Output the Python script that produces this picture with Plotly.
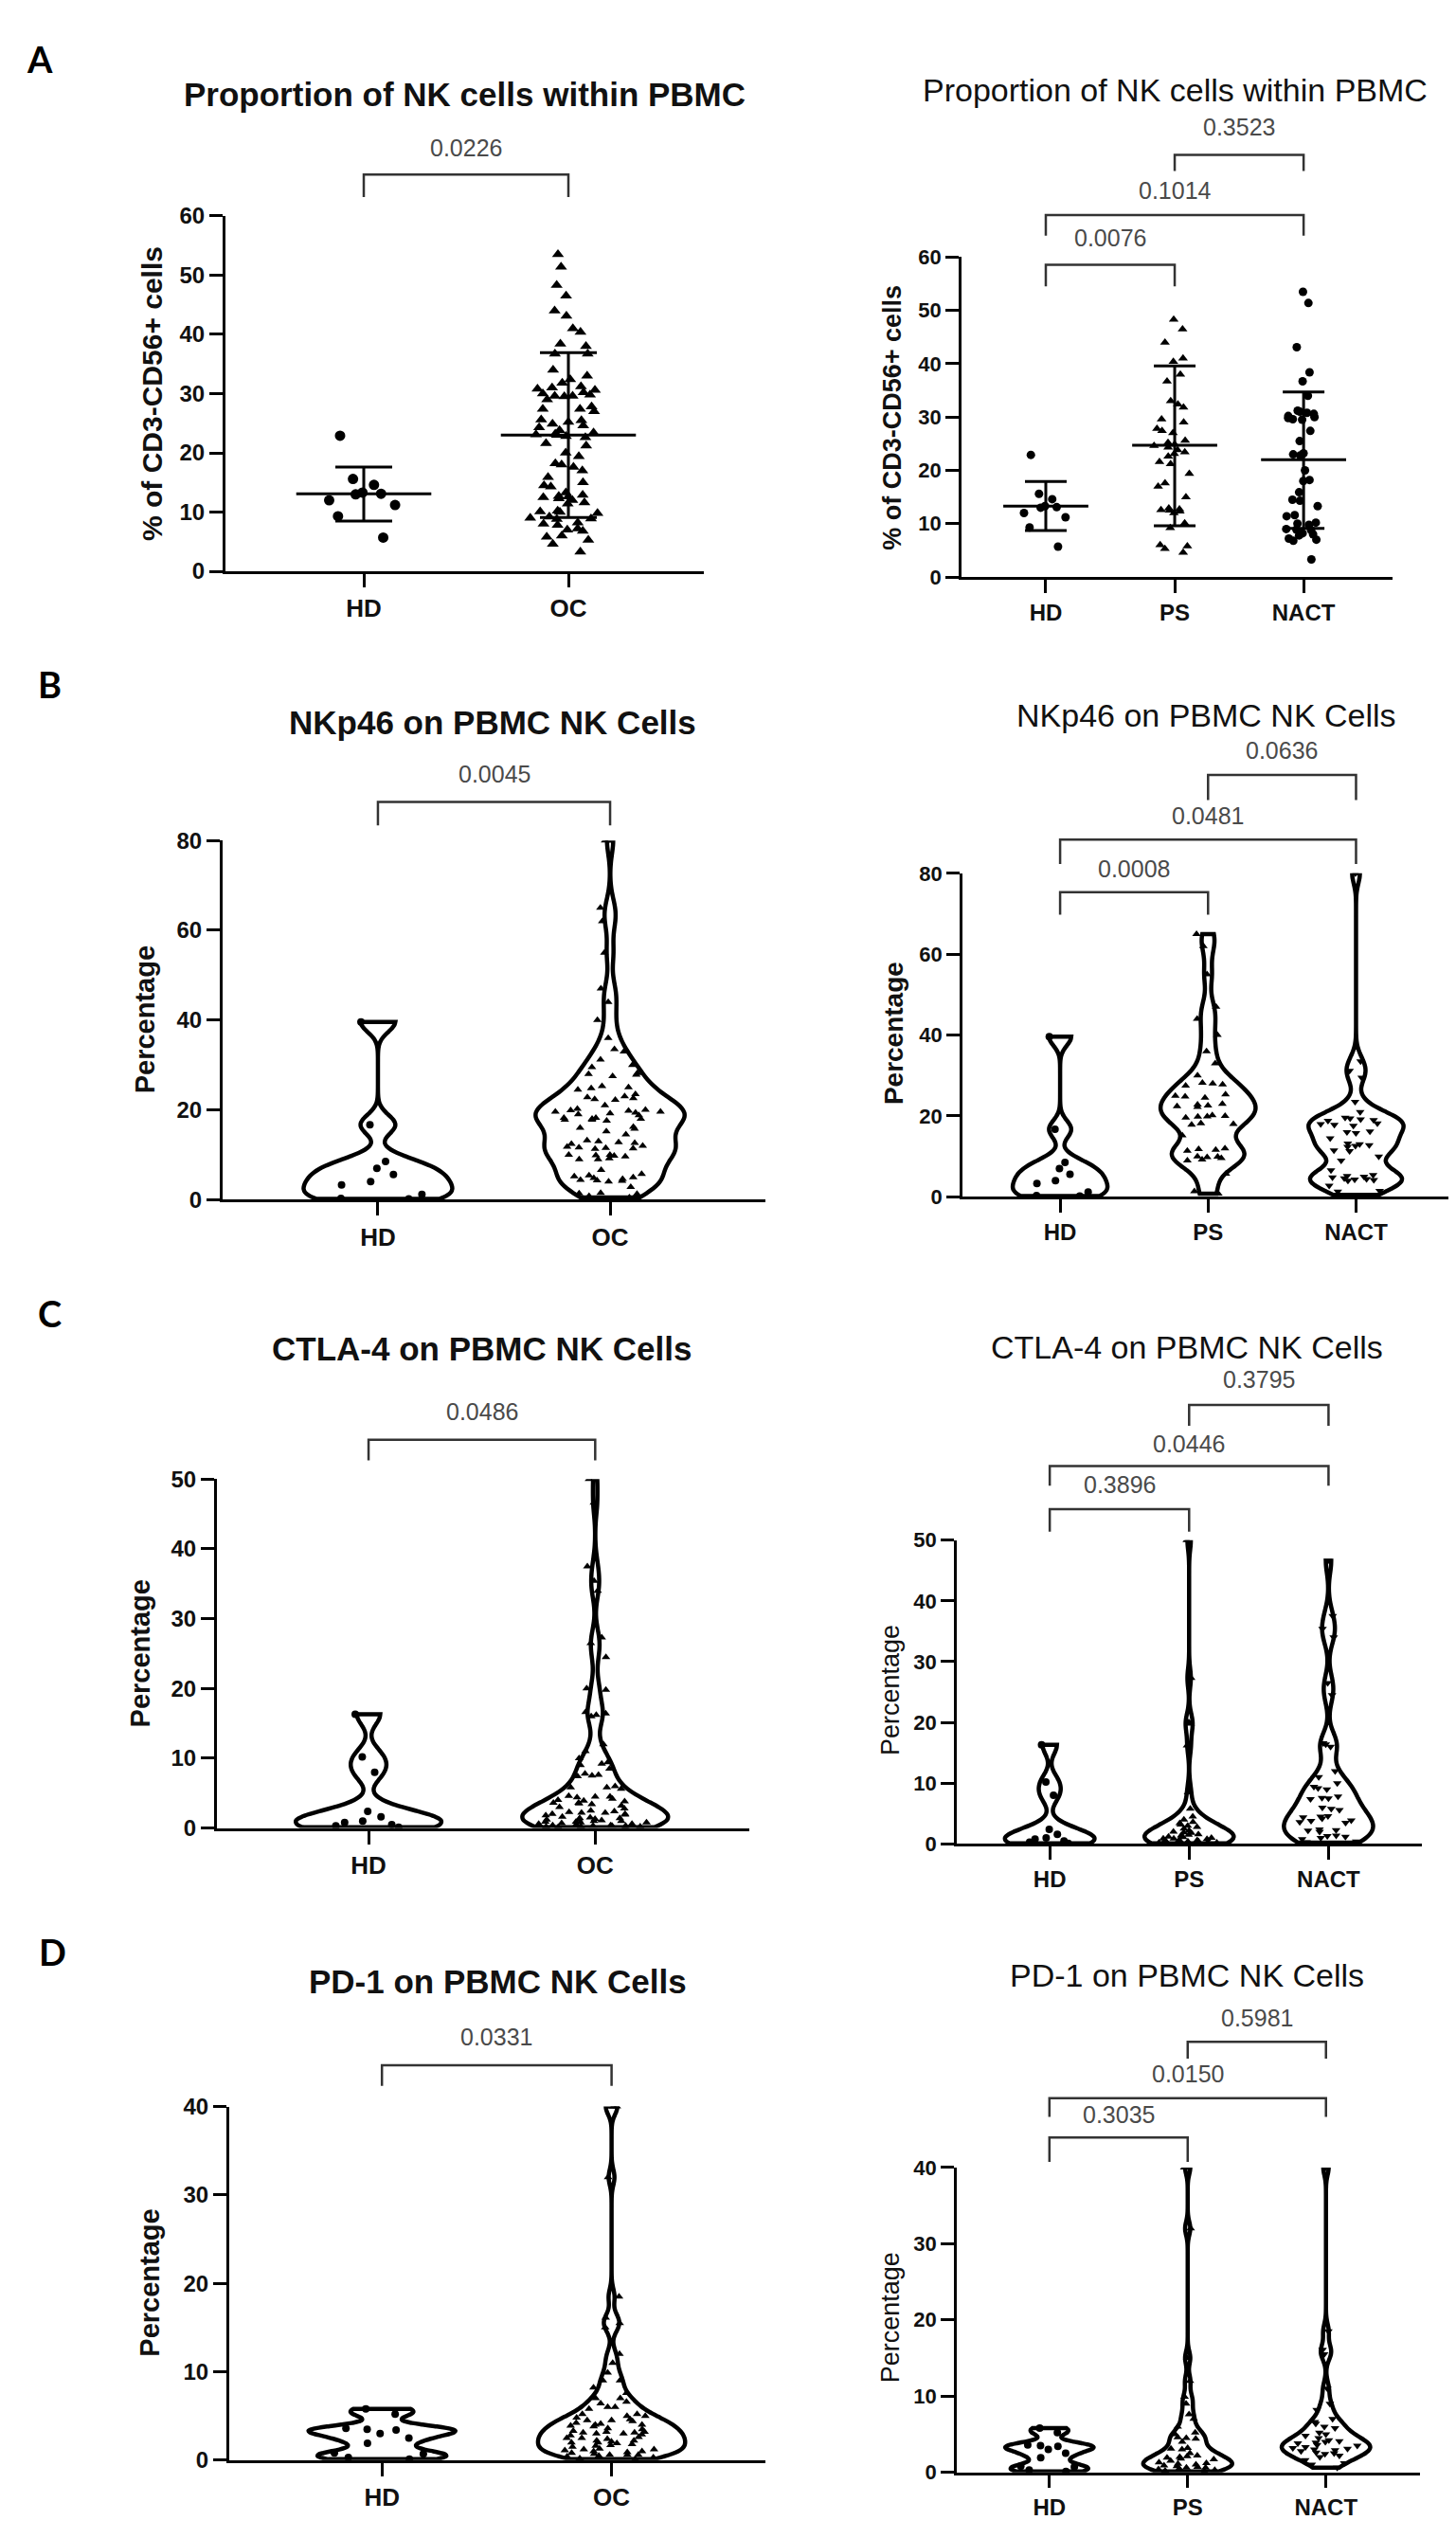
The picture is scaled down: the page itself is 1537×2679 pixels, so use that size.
import plotly.graph_objects as go

W, H = 1537, 2679
FONT = "Liberation Sans, Arial, sans-serif"

# ---------------- data ----------------
cats2 = ["HD", "OC"]
cats3 = ["HD", "PS", "NACT"]

# A - proportion of NK cells within PBMC (% of CD3-CD56+ cells)
a_hd = [22.9, 15.6, 14.6, 13.3, 13.1, 13.0, 12.0, 11.2, 9.3, 5.7]
a_ps = [48.3, 46.5, 44.0, 41.0, 40.4, 38.0, 36.7, 33.0, 32.4, 31.8, 29.6, 29.0, 27.8, 27.4,
        27.0, 25.6, 25.2, 24.9, 24.6, 24.3, 23.8, 23.4, 23.1, 22.6, 21.6, 21.2, 19.4, 17.6,
        17.0, 15.0, 12.9, 12.7, 12.6, 12.5, 12.3, 12.0, 10.1, 9.2, 6.0, 5.8, 5.3, 4.6]
a_nact = [53.5, 51.4, 43.1, 38.4, 36.7, 34.0, 31.2, 31.0, 30.8, 30.6, 30.2, 30.0, 29.8, 29.6,
          29.5, 27.4, 25.5, 23.2, 23.0, 22.8, 20.0, 18.2, 18.0, 15.9, 14.5, 14.3, 13.3, 11.6,
          11.4, 10.2, 10.0, 9.8, 9.0, 8.9, 8.8, 8.2, 8.0, 7.8, 7.2, 7.0, 6.8, 3.3]
a_oc = a_ps + a_nact

# mean and SD bars as drawn in panel A
a_left_mean = [13.1, 23.0]
a_left_lo = [8.5, 9.1]
a_left_hi = [17.6, 36.9]
a_right_mean = [13.3, 24.7, 22.0]
a_right_lo = [8.7, 9.6, 9.1]
a_right_hi = [17.9, 39.6, 34.7]

# B - NKp46 on PBMC NK cells (%)
b_hd = [39.6, 16.7, 8.5, 7.0, 5.6, 4.0, 3.3, 1.2, 0.3, 0.2]
b_ps = [65.0, 62.0, 55.0, 47.0, 44.0, 40.0, 36.0, 33.0, 30.0, 28.2, 28.0, 27.8, 27.5, 25.3,
        25.0, 24.8, 24.5, 23.0, 22.8, 22.6, 22.4, 22.2, 20.2, 20.0, 19.9, 19.8, 19.6, 18.2,
        18.0, 17.8, 15.2, 12.0, 11.8, 11.6, 11.4, 10.0, 9.9, 9.8, 9.6, 9.2, 9.0, 5.7, 1.4, 0.8]
b_nact = [80.0, 33.5, 31.2, 29.5, 23.5, 21.0, 19.6, 19.4, 19.2, 19.0, 18.8, 18.2, 18.0, 17.8,
          17.6, 16.2, 16.0, 15.8, 14.5, 13.2, 13.0, 12.8, 12.6, 12.4, 11.5, 11.3, 10.0, 9.0,
          6.6, 5.4, 5.2, 5.0, 4.8, 4.6, 4.4, 4.3, 4.2, 4.0, 2.8, 1.5, 1.3, 0.5]

# C - CTLA-4 on PBMC NK cells (%)
c_hd = [16.3, 10.2, 8.0, 2.4, 1.6, 1.0, 0.8, 0.5, 0.3, 0.1]
c_ps = [50.0, 27.3, 20.0, 19.8, 16.2, 8.5, 5.8, 4.5, 4.0, 3.6, 3.4, 3.2, 3.0, 2.8, 2.5, 2.2,
        2.0, 1.9, 1.8, 1.6, 1.5, 1.4, 1.2, 1.1, 1.0, 0.9, 0.9, 0.8, 0.7, 0.6, 0.6, 0.5, 0.4,
        0.4, 0.3, 0.3, 0.2, 0.2, 0.15, 0.1]
c_nact = [46.6, 37.5, 35.4, 34.0, 26.5, 24.5, 16.6, 16.4, 16.0, 12.0, 11.0, 10.0, 9.4, 9.2,
          9.0, 7.8, 7.6, 7.5, 7.4, 6.0, 5.8, 5.6, 4.6, 4.5, 4.4, 4.2, 3.9, 3.8, 3.6, 3.5, 2.4,
          2.3, 2.2, 2.0, 1.4, 1.3, 1.2, 1.0, 0.8, 0.4, 0.3, 0.2]

# D - PD-1 on PBMC NK cells (%)
d_hd = [5.8, 5.2, 3.6, 3.5, 3.4, 3.0, 2.5, 1.9, 0.8, 0.7, 0.3, 0.1]
d_ps = [40.0, 32.0, 15.0, 12.0, 9.9, 9.0, 7.6, 7.0, 6.0, 5.2, 5.0, 4.6, 4.5, 4.4, 4.0, 3.2,
        3.1, 3.0, 2.5, 2.2, 2.1, 2.0, 1.9, 1.8, 1.7, 1.5, 1.3, 1.2, 1.1, 1.0, 0.9, 0.8, 0.7,
        0.6, 0.6, 0.5, 0.4, 0.3, 0.2, 0.1]
d_nact = [40.0, 18.5, 16.1, 15.5, 11.0, 9.0, 8.2, 7.0, 6.6, 6.4, 6.0, 5.8, 5.2, 5.0, 4.8, 4.5,
          4.2, 4.1, 4.0, 3.9, 3.8, 3.6, 3.5, 3.3, 3.2, 3.1, 3.0, 2.9, 2.8, 2.6, 2.5, 2.4, 2.2,
          2.0, 1.6, 1.2, 1.0, 0.6]

# p-values: left = HD vs OC; right = HD-PS, HD-NACT, PS-NACT
a_p = ["0.0226", "0.0076", "0.1014", "0.3523"]
b_p = ["0.0045", "0.0008", "0.0481", "0.0636"]
c_p = ["0.0486", "0.3896", "0.0446", "0.3795"]
d_p = ["0.0331", "0.3035", "0.0150", "0.5981"]


def px_y(v):
    return 1 - v / H


# ---------------- panel geometry (pixels) ----------------
# box = (x_left, x_right, y_top, y_bottom), xr = x range, brackets = (text_y, bar_y, leg_y)
panels = [
    dict(box=(230, 735, 208, 587), xr=(-0.676, 1.662), ymax=60, cats=cats2,
         title="Proportion of NK cells within PBMC", tpos=(482, 78), tbold=True,
         ytitle="% of CD3-CD56+ cells", ypos=(153, 398), ysize=30, ybold=True,
         tick=24, xtick=26, pv=a_p[:1], br=[(135, 164, 188)]),
    dict(box=(1007, 1462, 252, 593), xr=(-0.654, 2.69), ymax=60, cats=cats3,
         title="Proportion of NK cells within PBMC", tpos=(1232, 74), tbold=False,
         ytitle="% of CD3-CD56+ cells", ypos=(934, 423), ysize=27, ybold=True,
         tick=22, xtick=24, pv=a_p[1:], br=[(231, 260, 283), (181, 207, 229), (113, 143, 160)]),
    dict(box=(227, 800, 874, 1257), xr=(-0.669, 1.669), ymax=80, cats=cats2,
         title="NKp46 on PBMC NK Cells", tpos=(512, 748), tbold=True,
         ytitle="Percentage", ypos=(145, 1065), ysize=29, ybold=True,
         tick=24, xtick=26, pv=b_p[:1], br=[(803, 833, 858)]),
    dict(box=(1008, 1525, 909, 1254), xr=(-0.66, 2.65), ymax=80, cats=cats3,
         title="NKp46 on PBMC NK Cells", tpos=(1265, 740), tbold=False,
         ytitle="Percentage", ypos=(935, 1080), ysize=28, ybold=True,
         tick=22, xtick=24, pv=b_p[1:], br=[(904, 929, 953), (848, 873, 899), (778, 804, 831)]),
    dict(box=(221, 783, 1555, 1927), xr=(-0.669, 1.68), ymax=50, cats=cats2,
         title="CTLA-4 on PBMC NK Cells", tpos=(500, 1416), tbold=True,
         ytitle="Percentage", ypos=(140, 1741), ysize=29, ybold=True,
         tick=24, xtick=26, pv=c_p[:1], br=[(1483, 1513, 1535)]),
    dict(box=(1002, 1493, 1620, 1944), xr=(-0.667, 2.67), ymax=50, cats=cats3,
         title="CTLA-4 on PBMC NK Cells", tpos=(1245, 1414), tbold=False,
         ytitle="Percentage", ypos=(932, 1780), ysize=27, ybold=False,
         tick=22, xtick=24, pv=c_p[1:], br=[(1561, 1587, 1611), (1517, 1541, 1562), (1449, 1476, 1498)]),
    dict(box=(234, 800, 2224, 2601), xr=(-0.665, 1.67), ymax=40, cats=cats2,
         title="PD-1 on PBMC NK Cells", tpos=(517, 2091), tbold=True,
         ytitle="Percentage", ypos=(150, 2412), ysize=29, ybold=True,
         tick=24, xtick=26, pv=d_p[:1], br=[(2150, 2180, 2202)]),
    dict(box=(1002, 1491, 2289, 2614), xr=(-0.67, 2.68), ymax=40, cats=cats3,
         title="PD-1 on PBMC NK Cells", tpos=(1245, 2084), tbold=False,
         ytitle="Percentage", ypos=(932, 2449), ysize=27, ybold=False,
         tick=22, xtick=24, pv=d_p[1:], br=[(2233, 2257, 2283), (2189, 2215, 2235), (2129, 2155, 2173)]),
]

letters = [("A", 34, 40), ("B", 44, 707), ("C", 44, 1378), ("D", 47, 2059)]

fig = go.Figure()
layout = dict(width=W, height=H, margin=dict(l=0, r=0, t=0, b=0),
              paper_bgcolor="white", plot_bgcolor="white", showlegend=False,
              violinmode="overlay", boxmode="overlay")
shapes, annotations = [], []

for k, p in enumerate(panels):
    n = k + 1
    xa = "x" if n == 1 else f"x{n}"
    ya = "y" if n == 1 else f"y{n}"
    x0, x1, yt, yb = p["box"]
    lw = 3 if k % 2 == 0 else 2.5
    layout["xaxis" if n == 1 else f"xaxis{n}"] = dict(
        domain=[x0 / W, x1 / W], range=list(p["xr"]), anchor=ya,
        tickvals=list(range(len(p["cats"]))), ticktext=p["cats"],
        showline=True, linecolor="black", linewidth=lw, ticks="outside",
        ticklen=14, tickwidth=lw, tickcolor="black", showgrid=False, zeroline=False,
        tickfont=dict(family=FONT, size=p["xtick"], color="#111", weight="bold"))
    layout["yaxis" if n == 1 else f"yaxis{n}"] = dict(
        domain=[1 - yb / H, 1 - yt / H], range=[0, p["ymax"]], anchor=xa,
        dtick=10 if p["ymax"] <= 60 else 20,
        showline=True, linecolor="black", linewidth=lw, ticks="outside",
        ticklen=14, tickwidth=lw, tickcolor="black", showgrid=False, zeroline=False,
        tickfont=dict(family=FONT, size=p["tick"], color="#111", weight="bold"))

    # titles
    annotations.append(dict(text=p["title"], xref="paper", yref="paper",
                            x=p["tpos"][0] / W, y=px_y(p["tpos"][1]), showarrow=False,
                            xanchor="center", yanchor="middle",
                            font=dict(family=FONT, size=35 if p["tbold"] else 34, color="#111",
                                      weight="bold" if p["tbold"] else "normal")))
    annotations.append(dict(text=p["ytitle"], xref="paper", yref="paper", textangle=-90,
                            x=p["ypos"][0] / W, y=px_y(p["ypos"][1]), showarrow=False,
                            xanchor="center", yanchor="middle",
                            font=dict(family=FONT, size=p["ysize"], color="#111",
                                      weight="bold" if p["ybold"] else "normal")))

    # significance brackets
    pairs = [(0, 1)] if len(p["cats"]) == 2 else [(0, 1), (0, 2), (1, 2)]
    for (i, j), txt, (ty, by, ly) in zip(pairs, p["pv"], p["br"]):
        shapes.append(dict(type="path", xref=xa, yref="paper",
                           path=f"M {i},{px_y(ly)} L {i},{px_y(by)} L {j},{px_y(by)} L {j},{px_y(ly)}",
                           line=dict(color="#333", width=2.5)))
        annotations.append(dict(text=txt, xref=xa, yref="paper", x=(i + j) / 2, y=px_y(ty),
                                showarrow=False, xanchor="center", yanchor="middle",
                                font=dict(family=FONT, size=25, color="#4a4a4a")))

for t, lx, ly in letters:
    annotations.append(dict(text=t, xref="paper", yref="paper", x=lx / W, y=px_y(ly),
                            showarrow=False, xanchor="center", yanchor="middle",
                            font=dict(family="Lato, Open Sans, sans-serif", size=38,
                                      color="black", weight="bold")))

# ---------------- panel A: scatter dot plots with mean +/- SD ----------------
a_sets = [
    ("x", "y", [a_hd, a_oc], ["circle", "triangle-up"], 11, a_left_mean, a_left_lo, a_left_hi, 30),
    ("x2", "y2", [a_hd, a_ps, a_nact], ["circle", "triangle-up", "circle"], 9,
     a_right_mean, a_right_lo, a_right_hi, 22),
]
for xa, ya, sets, syms, msize, mean, lo, hi, cap in a_sets:
    for i, (vals, sym) in enumerate(zip(sets, syms)):
        fig.add_trace(go.Box(y=vals, x0=i, xaxis=xa, yaxis=ya, boxpoints="all", jitter=1,
                             pointpos=0, width=0.4, fillcolor="rgba(0,0,0,0)",
                             line=dict(width=0, color="rgba(0,0,0,0)"),
                             marker=dict(symbol=sym, size=msize, color="black")))
    fig.add_trace(go.Scatter(
        x=list(range(len(mean))), y=mean, xaxis=xa, yaxis=ya, mode="markers",
        marker=dict(size=1, color="rgba(0,0,0,0)"),
        error_y=dict(type="data", symmetric=False,
                     array=[h - m for h, m in zip(hi, mean)],
                     arrayminus=[m - l for m, l in zip(mean, lo)],
                     width=cap, thickness=3, color="black"),
        error_x=dict(type="data", array=[0.33] * len(mean), width=0, thickness=3,
                     color="black")))

# ---------------- panels B-D: violins ----------------
v_sets = [
    ("x3", "y3", [b_hd, b_ps + b_nact], ["circle", "triangle-up"], [2.2, 3.0]),
    ("x4", "y4", [b_hd, b_ps, b_nact], ["circle", "triangle-up", "triangle-down"], [2.2, 3.0, 2.5]),
    ("x5", "y5", [c_hd, c_ps + c_nact], ["circle", "triangle-up"], [1.5, 1.8]),
    ("x6", "y6", [c_hd, c_ps, c_nact], ["circle", "triangle-up", "triangle-down"], [1.5, 1.6, 2.0]),
    ("x7", "y7", [d_hd, d_ps + d_nact], ["circle", "triangle-up"], [0.55, 0.9]),
    ("x8", "y8", [d_hd, d_ps, d_nact], ["circle", "triangle-up", "triangle-down"], [0.55, 0.9, 1.0]),
]
for xa, ya, sets, syms, bws in v_sets:
    for i, (vals, sym, bw) in enumerate(zip(sets, syms, bws)):
        fig.add_trace(go.Violin(y=vals, x0=i, xaxis=xa, yaxis=ya, width=0.64,
                                spanmode="hard", bandwidth=bw, points="all", pointpos=0,
                                jitter=0.8, fillcolor="white",
                                line=dict(color="black", width=4.5),
                                box=dict(visible=False), meanline=dict(visible=False),
                                marker=dict(symbol=sym, size=8, color="black")))

layout["shapes"] = shapes
layout["annotations"] = annotations
fig.update_layout(**layout)
fig.write_html("out.html")
